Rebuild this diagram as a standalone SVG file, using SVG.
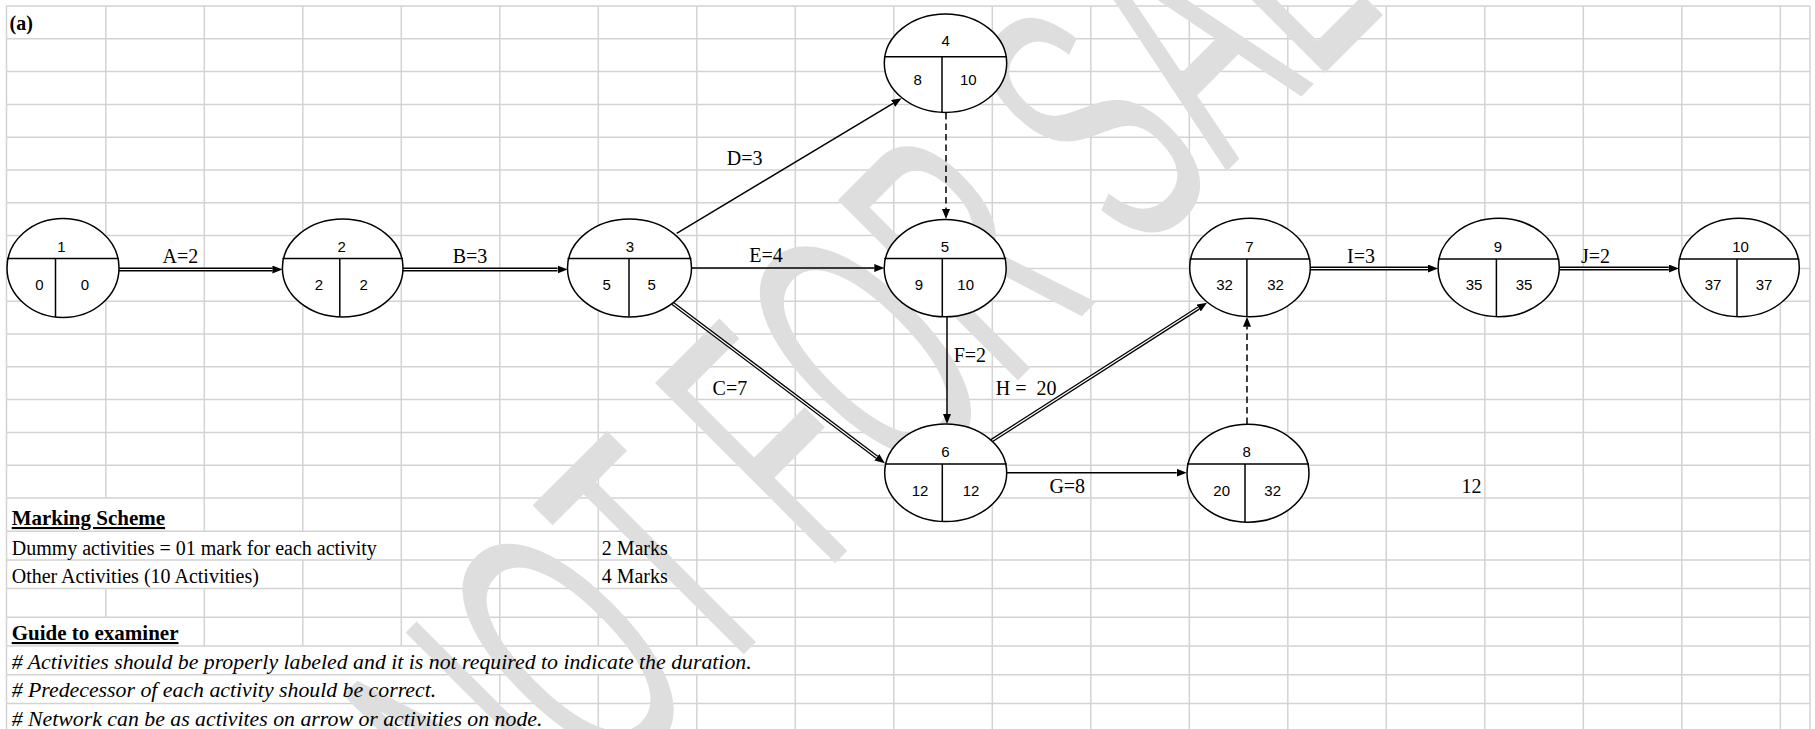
<svg xmlns="http://www.w3.org/2000/svg" width="1815" height="729" viewBox="0 0 1815 729">
<style>
.grid line{stroke:#d3d3d3;stroke-width:1.5}
.nd ellipse{fill:#fff;stroke:#000;stroke-width:1.5}
.nd line{stroke:#000;stroke-width:1.5}
.nd text{font-family:"Liberation Sans",Arial,sans-serif;font-size:15px;fill:#000;text-anchor:middle}
.lbl{font-family:"Liberation Serif","Times New Roman",serif;font-size:20px;fill:#000}
.c-single{stroke:#000;stroke-width:1.5;fill:none}
.c-dash{stroke:#000;stroke-width:1.5;fill:none;stroke-dasharray:6.5 4}
.c-dbl{stroke:#000;stroke-width:3.8;fill:none}
.c-dbl-in{stroke:#fff;stroke-width:1.2;fill:none}
.txt{font-family:"Liberation Serif","Times New Roman",serif;font-size:20px;fill:#000}
.b{font-weight:bold;font-size:21px}
.i{font-style:italic;font-size:21.8px}
.wm{font-family:"Liberation Sans",Arial,sans-serif;font-size:370px;fill:#dedede}
</style>
<defs>
<marker id="ah" markerUnits="userSpaceOnUse" markerWidth="12" markerHeight="10" refX="0" refY="4" orient="auto">
<path d="M0,0 L10,4 L0,8 z" fill="#000"/>
</marker>
</defs>
<rect width="1815" height="729" fill="#fff"/>
<g class="grid">
<line x1="6" y1="6" x2="1810" y2="6"/>
<line x1="6" y1="38.8" x2="1810" y2="38.8"/>
<line x1="6" y1="71.6" x2="1810" y2="71.6"/>
<line x1="6" y1="104.4" x2="1810" y2="104.4"/>
<line x1="6" y1="137.2" x2="1810" y2="137.2"/>
<line x1="6" y1="170" x2="1810" y2="170"/>
<line x1="6" y1="202.8" x2="1810" y2="202.8"/>
<line x1="6" y1="235.6" x2="1810" y2="235.6"/>
<line x1="6" y1="268.4" x2="1810" y2="268.4"/>
<line x1="6" y1="301.2" x2="1810" y2="301.2"/>
<line x1="6" y1="334" x2="1810" y2="334"/>
<line x1="6" y1="366.8" x2="1810" y2="366.8"/>
<line x1="6" y1="399.6" x2="1810" y2="399.6"/>
<line x1="6" y1="432.4" x2="1810" y2="432.4"/>
<line x1="6" y1="465.2" x2="1810" y2="465.2"/>
<line x1="6" y1="498" x2="1810" y2="498"/>
<line x1="6" y1="531.2" x2="1810" y2="531.2"/>
<line x1="6" y1="559.9" x2="1810" y2="559.9"/>
<line x1="6" y1="588.6" x2="1810" y2="588.6"/>
<line x1="6" y1="617.3" x2="1810" y2="617.3"/>
<line x1="6" y1="646" x2="1810" y2="646"/>
<line x1="6" y1="674.7" x2="1810" y2="674.7"/>
<line x1="6" y1="703.4" x2="1810" y2="703.4"/>
<line x1="6.5" y1="6" x2="6.5" y2="729"/>
<line x1="105.8" y1="6" x2="105.8" y2="498"/>
<line x1="105.8" y1="588.6" x2="105.8" y2="617.3"/>
<line x1="204.3" y1="6" x2="204.3" y2="531.2"/>
<line x1="204.3" y1="588.6" x2="204.3" y2="646"/>
<line x1="302.8" y1="6" x2="302.8" y2="531.2"/>
<line x1="302.8" y1="559.9" x2="302.8" y2="646"/>
<line x1="401.3" y1="6" x2="401.3" y2="646"/>
<line x1="499.8" y1="6" x2="499.8" y2="646"/>
<line x1="499.8" y1="674.7" x2="499.8" y2="703.4"/>
<line x1="598.3" y1="6" x2="598.3" y2="646"/>
<line x1="598.3" y1="674.7" x2="598.3" y2="729"/>
<line x1="696.8" y1="6" x2="696.8" y2="646"/>
<line x1="696.8" y1="674.7" x2="696.8" y2="729"/>
<line x1="795.3" y1="6" x2="795.3" y2="729"/>
<line x1="893.8" y1="6" x2="893.8" y2="729"/>
<line x1="992.3" y1="6" x2="992.3" y2="729"/>
<line x1="1090.8" y1="6" x2="1090.8" y2="729"/>
<line x1="1189.3" y1="6" x2="1189.3" y2="729"/>
<line x1="1287.8" y1="6" x2="1287.8" y2="729"/>
<line x1="1386.3" y1="6" x2="1386.3" y2="729"/>
<line x1="1484.8" y1="6" x2="1484.8" y2="729"/>
<line x1="1583.3" y1="6" x2="1583.3" y2="729"/>
<line x1="1681.8" y1="6" x2="1681.8" y2="729"/>
<line x1="1780.3" y1="6" x2="1780.3" y2="729"/>
<line x1="1810" y1="6" x2="1810" y2="729"/>
</g>

<text id="watermark" class="wm" x="0" y="0" transform="translate(512.3,885.7) rotate(-45) scale(0.503,1)">NOT FOR SALE</text>

<g id="connectors">
<g id="A"><line class="c-dbl" x1="119" y1="269.5" x2="272.4" y2="269.5" marker-end="url(#ah)"/><line class="c-dbl-in" x1="119" y1="269.5" x2="272.4" y2="269.5"/></g>
<g id="B"><line class="c-dbl" x1="403" y1="269.5" x2="557.5" y2="269.5" marker-end="url(#ah)"/><line class="c-dbl-in" x1="403" y1="269.5" x2="557.5" y2="269.5"/></g>
<line id="E" class="c-single" x1="691" y1="268" x2="874.3" y2="268" marker-end="url(#ah)"/>
<line id="D" class="c-single" x1="676.7" y1="233.3" x2="893.1" y2="103.4" marker-end="url(#ah)"/>
<line id="dummy45" class="c-dash" x1="946" y1="113" x2="946" y2="209" marker-end="url(#ah)"/>
<g id="C"><line class="c-dbl" x1="672.5" y1="303.3" x2="876.9" y2="457.3" marker-end="url(#ah)"/><line class="c-dbl-in" x1="672.5" y1="303.3" x2="876.9" y2="457.3"/></g>
<line id="F" class="c-single" x1="947" y1="317" x2="947" y2="414" marker-end="url(#ah)"/>
<g id="H"><line class="c-dbl" x1="990" y1="441.7" x2="1198.6" y2="308.1" marker-end="url(#ah)"/><line class="c-dbl-in" x1="990" y1="441.7" x2="1198.6" y2="308.1"/></g>
<line id="G" class="c-single" x1="1006.5" y1="472.7" x2="1176.7" y2="472.7" marker-end="url(#ah)"/>
<line id="dummy87" class="c-dash" x1="1247" y1="424" x2="1247" y2="326.7" marker-end="url(#ah)"/>
<g id="I"><line class="c-dbl" x1="1310" y1="268.5" x2="1428" y2="268.5" marker-end="url(#ah)"/><line class="c-dbl-in" x1="1310" y1="268.5" x2="1428" y2="268.5"/></g>
<g id="J"><line class="c-dbl" x1="1559.3" y1="268.5" x2="1668.8" y2="268.5" marker-end="url(#ah)"/><line class="c-dbl-in" x1="1559.3" y1="268.5" x2="1668.8" y2="268.5"/></g>
</g>

<g id="node1" class="nd">
<ellipse cx="63" cy="268" rx="56" ry="49.5"/>
<line x1="7" y1="258.5" x2="119" y2="258.5"/><line x1="55.5" y1="258.5" x2="55.5" y2="317"/>
<text x="61.5" y="252">1</text><text x="39.5" y="290">0</text><text x="85" y="290">0</text>
</g>
<g id="node2" class="nd">
<ellipse cx="342.7" cy="268" rx="60.3" ry="49"/>
<line x1="282.4" y1="258.5" x2="403" y2="258.5"/><line x1="339.8" y1="258.5" x2="339.8" y2="316.5"/>
<text x="341.7" y="252">2</text><text x="318.8" y="290">2</text><text x="363.6" y="290">2</text>
</g>
<g id="node3" class="nd">
<ellipse cx="629.5" cy="268" rx="62" ry="49"/>
<line x1="567.5" y1="258.5" x2="691.5" y2="258.5"/><line x1="629" y1="258.5" x2="629" y2="316.5"/>
<text x="630" y="252">3</text><text x="606.7" y="290">5</text><text x="651.7" y="290">5</text>
</g>
<g id="node4" class="nd">
<ellipse cx="945.5" cy="63.2" rx="61.2" ry="49.2"/>
<line x1="884.3" y1="56.8" x2="1006.7" y2="56.8"/><line x1="942" y1="56.8" x2="942" y2="112.3"/>
<text x="945.7" y="46">4</text><text x="917.7" y="85">8</text><text x="968.3" y="85">10</text>
</g>
<g id="node5" class="nd">
<ellipse cx="945.2" cy="268.2" rx="61" ry="48.6"/>
<line x1="884.2" y1="258.5" x2="1006.2" y2="258.5"/><line x1="942.3" y1="258.5" x2="942.3" y2="316.7"/>
<text x="945" y="252">5</text><text x="919" y="290">9</text><text x="965.7" y="290">10</text>
</g>
<g id="node6" class="nd">
<ellipse cx="945.7" cy="472.8" rx="61" ry="48.8"/>
<line x1="884.7" y1="464" x2="1006.7" y2="464"/><line x1="942.3" y1="464" x2="942.3" y2="521.6"/>
<text x="945.3" y="457">6</text><text x="920" y="495.5">12</text><text x="971" y="495.5">12</text>
</g>
<g id="node7" class="nd">
<ellipse cx="1250" cy="267.5" rx="60.3" ry="49.2"/>
<line x1="1189.7" y1="259" x2="1310.3" y2="259"/><line x1="1246.9" y1="259" x2="1246.9" y2="316.7"/>
<text x="1249.5" y="252">7</text><text x="1224.5" y="290">32</text><text x="1275.5" y="290">32</text>
</g>
<g id="node8" class="nd">
<ellipse cx="1248" cy="473.2" rx="61" ry="49"/>
<line x1="1187" y1="464" x2="1309" y2="464"/><line x1="1245" y1="464" x2="1245" y2="522.2"/>
<text x="1246.7" y="457">8</text><text x="1221.7" y="495.5">20</text><text x="1272.7" y="495.5">32</text>
</g>
<g id="node9" class="nd">
<ellipse cx="1498.7" cy="267.5" rx="60.6" ry="49.2"/>
<line x1="1438.1" y1="259" x2="1559.3" y2="259"/><line x1="1496.4" y1="259" x2="1496.4" y2="316.7"/>
<text x="1498" y="252">9</text><text x="1474" y="290">35</text><text x="1524" y="290">35</text>
</g>
<g id="node10" class="nd">
<ellipse cx="1739" cy="267.5" rx="60.3" ry="49.2"/>
<line x1="1678.7" y1="259" x2="1799.3" y2="259"/><line x1="1737" y1="259" x2="1737" y2="316.7"/>
<text x="1740.6" y="252">10</text><text x="1713" y="290">37</text><text x="1764" y="290">37</text>
</g>

<g id="labels">
<text class="lbl" x="162.6" y="262.5">A=2</text>
<text class="lbl" x="452.7" y="262.5">B=3</text>
<text class="lbl" x="726.7" y="165">D=3</text>
<text class="lbl" x="749.3" y="261.7">E=4</text>
<text class="lbl" x="712.6" y="395">C=7</text>
<text class="lbl" x="953.7" y="361.5">F=2</text>
<text class="lbl" x="995.8" y="395" xml:space="preserve">H =  20</text>
<text class="lbl" x="1049.4" y="493.3">G=8</text>
<text class="lbl" x="1347" y="263.3">I=3</text>
<text class="lbl" x="1581" y="263.3">J=2</text>
</g>

<g id="notes">
<text class="txt b" x="9.5" y="30" style="font-size:20px">(a)</text>
<text class="txt" x="1481.5" y="493.3" text-anchor="end">12</text>
<text class="txt b" x="11.7" y="525" text-decoration="underline">Marking Scheme</text>
<text class="txt" x="11.7" y="554.5">Dummy activities = 01 mark for each activity</text>
<text class="txt" x="601.7" y="554.5">2 Marks</text>
<text class="txt" x="11.7" y="583.3">Other Activities (10 Activities)</text>
<text class="txt" x="601.7" y="583.3">4 Marks</text>
<text class="txt b" x="11.7" y="640" text-decoration="underline">Guide to examiner</text>
<text class="txt i" x="11.7" y="668.5"># Activities should be properly labeled and it is not required to indicate the duration.</text>
<text class="txt i" x="11.7" y="697"># Predecessor of each activity should be correct.</text>
<text class="txt i" x="11.7" y="725.5"># Network can be as activites on arrow or activities on node.</text>
</g>
</svg>
